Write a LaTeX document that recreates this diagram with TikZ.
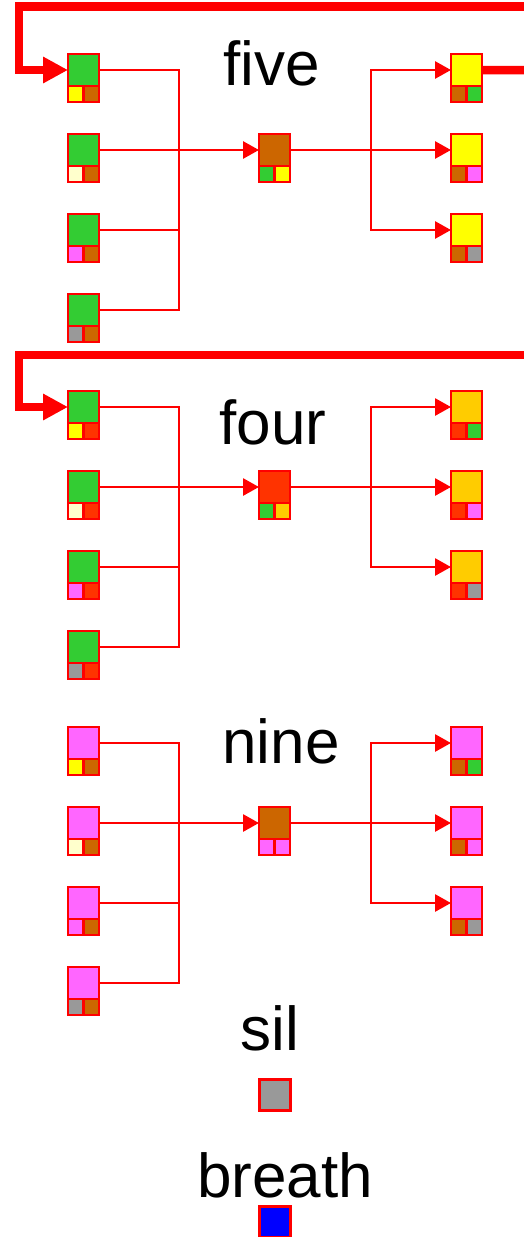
\documentclass[tikz,border=0pt]{standalone}
\usepackage{fontspec}
\newfontfamily\wordfont{Liberation Sans}
\usepackage{tikz}
\usetikzlibrary{arrows.meta, positioning}
\usepackage{xcolor}

\definecolor{cGreen}{RGB}{51,204,51}
\definecolor{cBrown}{RGB}{204,102,0}
\definecolor{cYellow}{RGB}{255,255,0}
\definecolor{cCream}{RGB}{255,255,204}
\definecolor{cPink}{RGB}{255,102,255}
\definecolor{cGray}{RGB}{153,153,153}
\definecolor{cScarlet}{RGB}{255,51,0}
\definecolor{cGold}{RGB}{255,204,0}
\definecolor{cBlue}{RGB}{0,0,255}

\tikzset{
  topsq/.style={draw=red, line width=2.6pt, minimum width=31pt, minimum height=32pt,
    inner sep=0pt, outer sep=0pt},
  subsq/.style={draw=red, line width=2.6pt, minimum width=15.5pt, minimum height=16pt,
    inner sep=0pt, outer sep=0pt},
  link/.style={draw=red, line width=2.8pt},
  linkarrow/.style={link, -{Triangle[length=16pt, width=17pt]}},
  loopback/.style={draw=red, line width=8.5pt},
  looparrow/.style={loopback, -{Triangle[length=25pt, width=25pt]}},
  word/.style={font=\wordfont\fontsize{62}{74}\selectfont, anchor=base, inner sep=0pt}
}

% one state: big square with two small squares below
\newcommand{\phonecell}[5]{%
  \node[topsq, fill=#3] (#1) at (#2) {};
  \node[subsq, fill=#4, anchor=north west] (#1a) at (#1.south west) {};
  \node[subsq, fill=#5, anchor=north east] (#1b) at (#1.south east) {};
}

\begin{document}
\begin{tikzpicture}[x=1pt, y=-1pt]
\useasboundingbox (0,0) rectangle (523,1237);

% ---- five ----
\node[word] (fiveText) at (271.5,85) {five};
\foreach \r/\y/\c in {1/70/cYellow, 2/150/cCream, 3/230/cPink, 4/310/cGray}
  \phonecell{fiveL\r}{83.5,\y}{cGreen}{\c}{cBrown};
\phonecell{fiveM}{274.5,150}{cBrown}{cGreen}{cYellow}
\foreach \r/\y/\c in {1/70/cGreen, 2/150/cPink, 3/230/cGray}
  \phonecell{fiveR\r}{466.5,\y}{cYellow}{cBrown}{\c};

\coordinate (fiveLbus) at (179,150);
\coordinate (fiveRbus) at (371,150);
\foreach \r in {1,3,4}
  \draw[link] (fiveL\r.east) -| (fiveLbus);
\draw[linkarrow] (fiveL2.east) -- (fiveM.west);
\draw[linkarrow] (fiveM.east) -- (fiveR2.west);
\draw[linkarrow] (fiveRbus) |- (fiveR1.west);
\draw[linkarrow] (fiveRbus) |- (fiveR3.west);

% loop in and out
\coordinate (fiveBack) at (530,6.5);
\coordinate (fiveTurn) at (19,6.5);
\coordinate (fiveOut) at (530,70.25);
\draw[looparrow] (fiveBack) -- (fiveTurn) |- (fiveL1.west);
\draw[loopback] (fiveR1.east) -- (fiveOut);

% ---- four ----
\node[word] (fourText) at (273,444) {four};
\foreach \r/\y/\c in {1/407/cYellow, 2/487/cCream, 3/567/cPink, 4/647/cGray}
  \phonecell{fourL\r}{83.5,\y}{cGreen}{\c}{cScarlet};
\phonecell{fourM}{274.5,487}{cScarlet}{cGreen}{cGold}
\foreach \r/\y/\c in {1/407/cGreen, 2/487/cPink, 3/567/cGray}
  \phonecell{fourR\r}{466.5,\y}{cGold}{cScarlet}{\c};

\coordinate (fourLbus) at (179,487);
\coordinate (fourRbus) at (371,487);
\foreach \r in {1,3,4}
  \draw[link] (fourL\r.east) -| (fourLbus);
\draw[linkarrow] (fourL2.east) -- (fourM.west);
\draw[linkarrow] (fourM.east) -- (fourR2.west);
\draw[linkarrow] (fourRbus) |- (fourR1.west);
\draw[linkarrow] (fourRbus) |- (fourR3.west);

\coordinate (fourBack) at (530,355);
\coordinate (fourTurn) at (19,355);
\draw[looparrow] (fourBack) -- (fourTurn) |- (fourL1.west);

% ---- nine ----
\node[word] (nineText) at (281,763) {nine};
\foreach \r/\y/\c in {1/743/cYellow, 2/823/cCream, 3/903/cPink, 4/983/cGray}
  \phonecell{nineL\r}{83.5,\y}{cPink}{\c}{cBrown};
\phonecell{nineM}{274.5,823}{cBrown}{cPink}{cPink}
\foreach \r/\y/\c in {1/743/cGreen, 2/823/cPink, 3/903/cGray}
  \phonecell{nineR\r}{466.5,\y}{cPink}{cBrown}{\c};

\coordinate (nineLbus) at (179,823);
\coordinate (nineRbus) at (371,823);
\foreach \r in {1,3,4}
  \draw[link] (nineL\r.east) -| (nineLbus);
\draw[linkarrow] (nineL2.east) -- (nineM.west);
\draw[linkarrow] (nineM.east) -- (nineR2.west);
\draw[linkarrow] (nineRbus) |- (nineR1.west);
\draw[linkarrow] (nineRbus) |- (nineR3.west);

% ---- sil and breath ----
\node[word] (silText) at (270,1050) {sil};
\node[topsq, minimum width=31.5pt, minimum height=31.5pt, fill=cGray] (silBox) at (275,1095) {};
\node[word] (breathText) at (285,1197) {breath};
\node[topsq, minimum width=31.5pt, minimum height=31.5pt, fill=cBlue] (breathBox) at (275,1222) {};

\end{tikzpicture}
\end{document}
